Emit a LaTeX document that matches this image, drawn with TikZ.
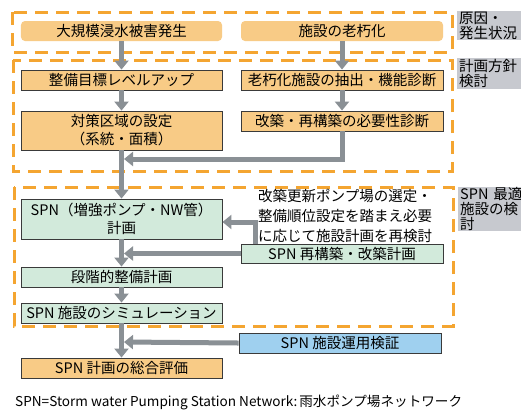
\documentclass[tikz,border=0pt]{standalone}
\usepackage{fontspec}
\setmainfont{Noto Sans CJK JP}
\usetikzlibrary{arrows.meta,calc}
\definecolor{ofill}{HTML}{F8CB86}
\definecolor{gfill}{HTML}{D2EADB}
\definecolor{bfill}{HTML}{9FD0EF}
\definecolor{dcol}{HTML}{F4A531}
\definecolor{agray}{HTML}{8A9095}
\definecolor{sgray}{HTML}{C7C9CF}
\definecolor{bord}{HTML}{3A3A3A}
\tikzset{
  box/.style={rectangle, draw=bord, line width=0.9bp, minimum height=20bp, inner sep=0bp,
    font=\fontsize{14.5bp}{18bp}\selectfont, align=center},
  obox/.style={box, fill=ofill},
  rbox/.style={box, draw=none, fill=ofill, rounded corners=4bp},
  gbox/.style={box, fill=gfill},
  bbox/.style={box, fill=bfill},
  lw/.style={minimum width=201bp},
  rw/.style={minimum width=202bp},
  arr/.style={draw=agray, line width=5bp, -{Triangle[width=14bp,length=9bp]}},
  dbox/.style={draw=dcol, line width=3bp, dash pattern=on 13bp off 8bp},
  sidelab/.style={rectangle, fill=sgray, anchor=north west, inner xsep=2bp, inner ysep=0bp,
    minimum width=70bp, align=left, text width=66bp, font=\fontsize{14.5bp}{15bp}\selectfont},
  note/.style={align=left, inner sep=0bp, font=\fontsize{14.5bp}{20bp}\selectfont}
}
\begin{document}
\begin{tikzpicture}[x=1bp,y=-1bp]
\useasboundingbox (0,0) rectangle (521,412);
\clip (0,0) rectangle (521,412);
\fill[white] (0,0) rectangle (521,412);

% dashed zones
\draw[dbox] (12,12) rectangle (452,52);
\draw[dbox] (13,60) rectangle (452,171);
\draw[dbox] (14,187) rectangle (453,326);

% side labels
\node[sidelab, minimum height=29bp] (s1) at (457,11) {原因・\\発生状況};
\node[sidelab, minimum height=31bp] (s2) at (457,58) {計画方針\\検討};
\node[sidelab, minimum height=44bp] (s3) at (458,187) {SPN 最適\\施設の検\\討};

% nodes
\node[rbox, lw] (n1) at (121.5,31) {大規模浸水被害発生};
\node[rbox, rw] (n2) at (342,31) {施設の老朽化};
\node[obox, lw] (n3) at (121.5,80) {整備目標レベルアップ};
\node[obox, rw] (n4) at (342,80) {老朽化施設の抽出・機能診断};
\node[obox, lw, minimum height=39bp] (n5) at (121.5,130.5) {対策区域の設定\\（系統・面積）};
\node[obox, rw] (n6) at (342,121) {改築・再構築の必要性診断};
\node[gbox, lw, minimum height=40bp] (n7) at (121.5,219) {SPN（増強ポンプ・NW管）\\計画};
\node[gbox, lw] (n8) at (121.5,277) {段階的整備計画};
\node[gbox, lw] (n9) at (121.5,313) {SPN 施設のシミュレーション};
\node[note, anchor=west] (nt) at (258,216) {改築更新ポンプ場の選定・\\整備順位設定を踏まえ必要\\に応じて施設計画を再検討};
\node[gbox, rw, minimum height=19bp] (n10) at (342,253.5) {SPN 再構築・改築計画};
\node[bbox, rw] (n11) at (340,343) {SPN 施設運用検証};
\node[obox, lw] (n12) at (121.5,368) {SPN 計画の総合評価};

\node[anchor=west, inner sep=0bp, font=\fontsize{13.6bp}{16bp}\selectfont] (foot) at (15,402)
  {SPN=Storm water Pumping Station Network:\kern2bp 雨水ポンプ場ネットワーク};

% connectors
\coordinate (j1) at (124,159);
\coordinate (j2) at (124,253.5);
\coordinate (j3) at (124,342);
\coordinate (k1) at (255,244);
\draw[arr] (n1) -- (n3);
\draw[arr] (n2) -- (n4);
\draw[arr] (n3) -- (n5);
\draw[arr] (n4) -- (n6);
\draw[arr] (n5) -- (n7);
\draw[arr] (n7) -- (n8);
\draw[arr] (n8) -- (n9);
\draw[arr] (n9) -- (n12);
\draw[arr] (n6.south) |- (j1);
\draw[arr] (k1) |- ([yshift=-3bp]n7.east);
\draw[arr] (n10.west) -- (j2);
\draw[arr] (n11.west) -- (j3);
\end{tikzpicture}
\end{document}
